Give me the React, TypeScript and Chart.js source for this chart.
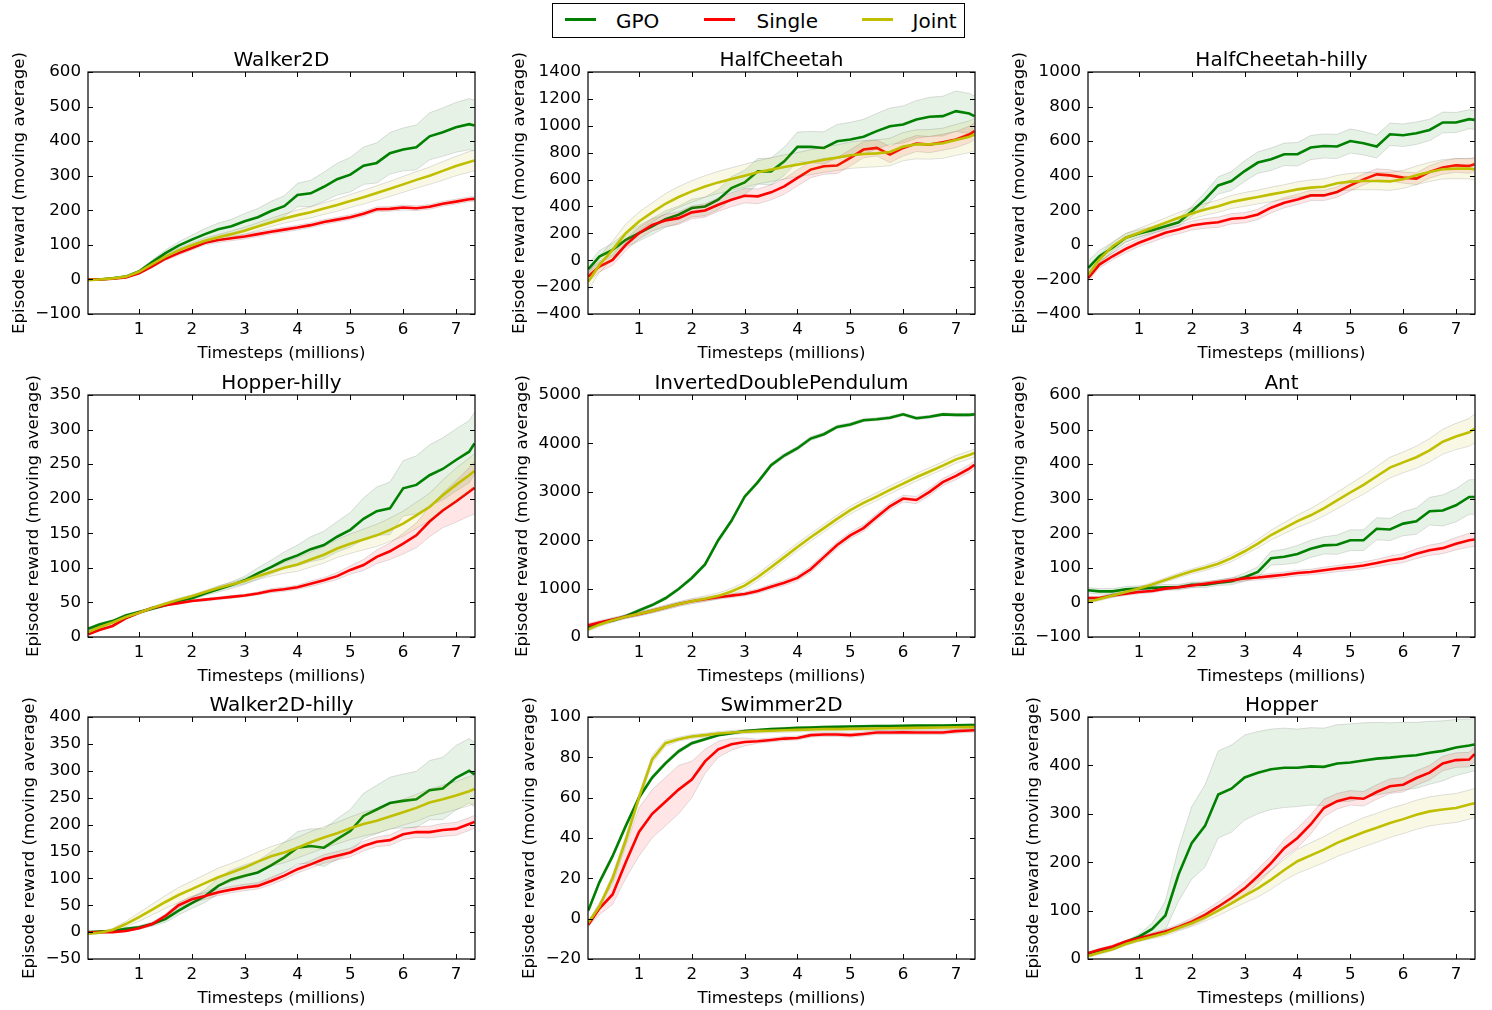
import React, { useEffect, useRef } from 'react';
import { Chart, registerables } from 'chart.js';

Chart.register(...registerables);

// ---------------- data ----------------
const TIMESTEPS = [0.04, 0.25, 0.5, 0.75, 1, 1.25, 1.5, 1.75, 2, 2.25, 2.5, 2.75, 3, 3.25, 3.5, 3.75, 4, 4.25, 4.5, 4.75, 5, 5.25, 5.5, 5.75, 6, 6.25, 6.5, 6.75, 7, 7.25, 7.35];
const X_TICKS = [1, 2, 3, 4, 5, 6, 7];
const SERIES_NAMES = ['GPO', 'Single', 'Joint'];

// Walker2D
const walkerGPO = [0, 0, 3, 8, 23, 50, 76, 98, 115, 131, 145, 154, 168, 180, 198, 212, 244, 249, 268, 290, 303, 329, 337, 365, 376, 382, 414, 426, 440, 449, 445];
const walkerGPOBand = [1, 1, 2, 3, 4, 6, 9, 11, 13, 16, 18, 20, 23, 25, 28, 30, 34, 38, 42, 46, 50, 54, 58, 60, 62, 65, 68, 70, 72, 74, 74];
const walkerSingle = [0, 0, 2, 6, 18, 38, 60, 76, 91, 106, 114, 119, 124, 131, 138, 144, 150, 157, 166, 173, 180, 190, 203, 204, 208, 206, 210, 219, 225, 232, 233];
const walkerSingleBand = [1, 1, 1, 2, 3, 4, 5, 6, 6, 6, 7, 7, 7, 7, 7, 7, 7, 7, 7, 7, 7, 7, 7, 7, 7, 7, 7, 7, 7, 7, 7];
const walkerJoint = [-2, 0, 3, 8, 22, 44, 66, 84, 99, 112, 122, 131, 141, 153, 165, 176, 186, 194, 205, 215, 227, 238, 250, 262, 275, 288, 300, 314, 328, 340, 344];
const walkerJointBand = [1, 1, 1, 2, 3, 4, 5, 6, 7, 8, 8, 9, 10, 11, 12, 13, 15, 16, 17, 18, 19, 20, 21, 22, 23, 24, 25, 27, 28, 30, 30];

// HalfCheetah
const cheetahGPO = [-67, 27, 77, 152, 201, 251, 306, 338, 388, 400, 450, 537, 579, 661, 661, 736, 843, 843, 835, 885, 898, 918, 960, 997, 1010, 1047, 1067, 1072, 1109, 1091, 1072];
const cheetahGPOBand = [40, 45, 50, 55, 58, 60, 62, 64, 66, 70, 75, 85, 90, 95, 100, 105, 110, 115, 120, 125, 128, 130, 132, 135, 138, 140, 145, 148, 150, 150, 150];
const cheetahSingle = [-122, -47, 2, 114, 201, 263, 296, 313, 356, 370, 413, 450, 480, 475, 505, 549, 612, 674, 699, 704, 761, 823, 835, 786, 835, 868, 860, 878, 898, 935, 960];
const cheetahSingleBand = [40, 40, 40, 42, 44, 45, 46, 47, 48, 50, 50, 52, 54, 55, 56, 58, 60, 60, 60, 60, 60, 60, 60, 60, 60, 60, 60, 60, 60, 62, 62];
const cheetahJoint = [-159, -35, 77, 201, 288, 356, 420, 470, 512, 549, 579, 604, 629, 654, 674, 694, 711, 729, 748, 763, 781, 790, 795, 805, 845, 862, 862, 870, 895, 918, 935];
const cheetahJointBand = [60, 60, 65, 68, 70, 72, 75, 78, 80, 80, 82, 84, 85, 86, 88, 90, 90, 92, 94, 95, 98, 100, 100, 102, 105, 108, 110, 112, 115, 118, 120];

// HalfCheetah-hilly
const cheetahHillyGPO = [-133, -66, -17, 41, 66, 85, 108, 131, 195, 263, 344, 369, 427, 476, 495, 524, 524, 563, 572, 569, 601, 588, 569, 640, 634, 646, 665, 708, 708, 727, 723];
const cheetahHillyGPOBand = [40, 35, 30, 25, 22, 20, 20, 22, 30, 40, 50, 55, 60, 62, 65, 65, 68, 70, 70, 70, 70, 68, 66, 65, 65, 65, 62, 60, 58, 55, 55];
const cheetahHillySingle = [-191, -114, -66, -23, 12, 41, 70, 89, 112, 124, 131, 151, 157, 176, 215, 244, 263, 286, 286, 306, 344, 379, 408, 402, 389, 383, 422, 447, 460, 456, 466];
const cheetahHillySingleBand = [20, 20, 20, 22, 22, 24, 25, 25, 26, 28, 30, 30, 30, 30, 30, 30, 30, 30, 30, 30, 32, 32, 32, 32, 32, 34, 36, 38, 40, 42, 42];
const cheetahHillyJoint = [-172, -85, -8, 41, 70, 99, 128, 157, 182, 205, 224, 248, 263, 277, 292, 306, 321, 331, 336, 356, 366, 369, 369, 367, 379, 402, 422, 437, 441, 441, 437];
const cheetahHillyJointBand = [25, 25, 25, 25, 25, 26, 28, 30, 32, 34, 36, 38, 40, 40, 42, 42, 44, 45, 46, 46, 48, 50, 50, 52, 52, 54, 55, 56, 58, 60, 60];

// Hopper-hilly
const hopperHillyGPO = [12, 18, 23, 31, 36, 41, 46, 52, 56, 63, 69, 75, 82, 92, 101, 111, 118, 127, 133, 145, 155, 171, 182, 186, 215, 220, 234, 243, 256, 268, 280];
const hopperHillyGPOBand = [2, 2, 2, 2, 2, 2, 2, 2, 3, 3, 4, 5, 6, 8, 10, 12, 15, 18, 20, 22, 25, 30, 35, 38, 40, 42, 44, 45, 45, 45, 45];
const hopperHillySingle = [4, 10, 16, 27, 35, 42, 46, 49, 52, 54, 56, 58, 60, 63, 67, 69, 72, 77, 82, 88, 97, 104, 116, 124, 135, 147, 167, 183, 196, 210, 216];
const hopperHillySingleBand = [1, 1, 1, 1, 1, 1, 1, 1, 1, 2, 2, 2, 2, 2, 3, 3, 3, 4, 4, 5, 6, 8, 10, 12, 15, 18, 22, 25, 30, 35, 38];
const hopperHillyJoint = [7, 14, 21, 29, 35, 42, 48, 54, 59, 65, 71, 76, 81, 88, 94, 100, 105, 112, 119, 128, 135, 141, 147, 155, 164, 176, 188, 205, 220, 234, 240];
const hopperHillyJointBand = [2, 2, 2, 2, 2, 2, 2, 2, 2, 2, 3, 3, 4, 5, 6, 8, 10, 11, 12, 13, 14, 15, 16, 17, 18, 19, 20, 22, 24, 25, 25];

// InvertedDoublePendulum
const pendulumGPO = [200, 280, 340, 430, 550, 660, 800, 990, 1220, 1500, 2000, 2400, 2900, 3200, 3550, 3750, 3900, 4100, 4190, 4340, 4390, 4480, 4500, 4530, 4600, 4520, 4550, 4600, 4590, 4590, 4600];
const pendulumGPOBand = [30, 30, 30, 30, 30, 30, 30, 30, 35, 40, 40, 40, 40, 40, 40, 40, 40, 40, 35, 35, 35, 30, 30, 30, 30, 30, 30, 30, 30, 30, 30];
const pendulumSingle = [240, 300, 360, 420, 475, 540, 610, 680, 740, 780, 820, 855, 890, 950, 1040, 1120, 1220, 1400, 1650, 1900, 2100, 2250, 2480, 2700, 2860, 2830, 3000, 3200, 3330, 3480, 3560];
const pendulumSingleBand = [40, 40, 40, 40, 40, 40, 40, 40, 40, 40, 40, 40, 40, 45, 50, 55, 60, 65, 70, 70, 70, 70, 70, 70, 70, 75, 75, 75, 80, 80, 80];
const pendulumJoint = [160, 255, 345, 420, 480, 540, 610, 680, 740, 790, 850, 940, 1060, 1240, 1440, 1650, 1860, 2060, 2250, 2440, 2620, 2770, 2900, 3040, 3170, 3300, 3420, 3540, 3670, 3760, 3800];
const pendulumJointBand = [40, 40, 40, 40, 45, 45, 50, 50, 55, 60, 60, 65, 70, 75, 80, 80, 80, 80, 80, 80, 80, 80, 80, 80, 80, 80, 80, 80, 80, 80, 80];

// Ant
const antGPO = [35, 32, 32, 38, 40, 42, 44, 44, 51, 51, 57, 61, 73, 88, 128, 132, 140, 155, 165, 167, 180, 180, 213, 211, 228, 235, 264, 266, 281, 305, 305];
const antGPOBand = [8, 8, 8, 8, 8, 8, 8, 8, 8, 8, 8, 10, 12, 15, 20, 22, 25, 25, 25, 28, 30, 30, 32, 32, 35, 38, 40, 45, 48, 50, 50];
const antSingle = [13, 13, 20, 25, 30, 33, 40, 44, 49, 54, 59, 64, 69, 72, 76, 80, 85, 88, 93, 98, 102, 107, 114, 122, 128, 141, 151, 157, 170, 180, 182];
const antSingleBand = [5, 5, 5, 5, 5, 5, 5, 5, 6, 6, 6, 7, 7, 7, 8, 8, 8, 8, 9, 9, 10, 10, 11, 12, 13, 14, 15, 16, 18, 20, 20];
const antJoint = [2, 10, 20, 30, 40, 52, 65, 78, 90, 100, 112, 128, 148, 170, 195, 215, 235, 252, 272, 295, 318, 340, 365, 390, 405, 420, 440, 465, 480, 492, 503];
const antJointBand = [5, 5, 5, 5, 5, 6, 6, 7, 7, 8, 8, 10, 10, 12, 14, 16, 18, 20, 22, 24, 25, 27, 28, 30, 30, 32, 34, 36, 38, 40, 42];

// Walker2D-hilly
const walkerHillyGPO = [0, 1, 2, 6, 9, 15, 24, 40, 54, 67, 86, 98, 105, 111, 124, 139, 157, 160, 157, 173, 188, 216, 228, 240, 244, 247, 264, 267, 287, 300, 293];
const walkerHillyGPOBand = [1, 1, 1, 2, 3, 4, 6, 8, 10, 12, 15, 18, 20, 22, 25, 28, 30, 32, 35, 38, 40, 42, 45, 48, 50, 52, 55, 58, 60, 60, 60];
const walkerHillySingle = [-1, 0, 0, 2, 7, 15, 30, 50, 61, 67, 74, 79, 83, 86, 95, 105, 117, 126, 136, 142, 148, 160, 168, 171, 182, 186, 186, 190, 192, 201, 205];
const walkerHillySingleBand = [1, 1, 1, 1, 2, 3, 4, 5, 6, 6, 6, 6, 6, 6, 7, 7, 7, 7, 8, 8, 8, 9, 9, 10, 10, 10, 11, 12, 12, 12, 12];
const walkerHillyJoint = [-3, -1, 4, 15, 28, 42, 56, 69, 80, 91, 102, 111, 120, 131, 141, 148, 157, 167, 176, 184, 193, 201, 207, 215, 223, 231, 241, 247, 254, 262, 266];
const walkerHillyJointBand = [2, 2, 3, 5, 8, 10, 12, 14, 15, 16, 17, 17, 18, 18, 18, 19, 19, 20, 20, 20, 21, 22, 23, 24, 24, 25, 25, 26, 26, 27, 27];

// Swimmer2D
const swimmerGPO = [4, 18, 31, 46, 60, 70, 77, 83, 87, 89, 91, 92, 93, 93.5, 94, 94.3, 94.6, 94.8, 95, 95.1, 95.3, 95.4, 95.5, 95.5, 95.6, 95.7, 95.8, 95.8, 95.9, 96, 96];
const swimmerGPOBand = [1, 1, 1, 1, 1, 1, 1, 1, 0.8, 0.6, 0.5, 0.5, 0.5, 0.5, 0.5, 0.5, 0.5, 0.5, 0.5, 0.5, 0.5, 0.5, 0.5, 0.5, 0.5, 0.5, 0.5, 0.5, 0.5, 0.5, 0.5];
const swimmerSingle = [-3, 5, 12, 28, 43, 52, 58, 64, 69, 78, 84, 86.5, 87.6, 88, 88.6, 89.3, 89.6, 91, 91.3, 91.3, 91, 91.6, 92.3, 92.3, 92.4, 92.3, 92.3, 92.3, 93, 93.3, 93.4];
const swimmerSingleBand = [1, 3, 5, 8, 12, 12, 12, 12, 9, 6, 4, 3, 2, 1, 1, 1, 1, 1, 1, 1, 1, 1, 1, 1, 1, 1, 1, 1, 1, 1, 1];
const swimmerJoint = [-2, 6, 20, 39, 60, 79, 87, 89, 90.3, 91, 91.8, 92.3, 92.7, 93, 93.2, 93.4, 93.6, 93.8, 94, 94, 94.1, 94.2, 94.3, 94.4, 94.5, 94.6, 94.7, 94.8, 94.9, 95, 95];
const swimmerJointBand = [1, 1, 2, 2, 2, 2, 1.5, 1, 1, 1, 1, 1, 1, 1, 1, 1, 1, 1, 1, 1, 1, 1, 1, 1, 1, 1, 1, 1, 1, 1, 1];

// Hopper
const hopperGPO = [12, 17, 24, 35, 46, 62, 90, 175, 240, 275, 340, 352, 375, 385, 392, 395, 395, 398, 397, 404, 406, 410, 414, 416, 419, 421, 426, 430, 437, 441, 443];
const hopperGPOBand = [3, 3, 3, 3, 5, 12, 30, 55, 75, 85, 90, 90, 88, 85, 83, 82, 80, 80, 80, 80, 80, 78, 75, 72, 70, 68, 65, 62, 58, 55, 54];
const hopperSingle = [12, 19, 26, 36, 43, 50, 57, 66, 77, 91, 108, 126, 146, 171, 198, 229, 250, 278, 312, 326, 333, 331, 345, 357, 360, 374, 385, 404, 411, 412, 423];
const hopperSingleBand = [3, 3, 3, 3, 3, 4, 5, 6, 8, 9, 10, 12, 14, 15, 15, 18, 20, 20, 18, 16, 15, 15, 15, 15, 15, 15, 15, 15, 15, 15, 15];
const hopperJoint = [6, 13, 20, 31, 39, 46, 53, 64, 74, 86, 100, 115, 131, 146, 164, 184, 202, 214, 226, 240, 251, 262, 271, 281, 289, 298, 305, 309, 312, 319, 322];
const hopperJointBand = [3, 3, 3, 3, 3, 4, 5, 6, 7, 8, 10, 12, 15, 18, 20, 22, 25, 26, 27, 28, 29, 30, 30, 30, 30, 30, 30, 30, 30, 30, 30];

type Panel = {
  title: string;
  yMin: number;
  yMax: number;
  yStep: number;
  series: number[][];
  bands: number[][];
};

const PANELS: Panel[] = [
  { title: 'Walker2D', yMin: -100, yMax: 600, yStep: 100, series: [walkerGPO, walkerSingle, walkerJoint], bands: [walkerGPOBand, walkerSingleBand, walkerJointBand] },
  { title: 'HalfCheetah', yMin: -400, yMax: 1400, yStep: 200, series: [cheetahGPO, cheetahSingle, cheetahJoint], bands: [cheetahGPOBand, cheetahSingleBand, cheetahJointBand] },
  { title: 'HalfCheetah-hilly', yMin: -400, yMax: 1000, yStep: 200, series: [cheetahHillyGPO, cheetahHillySingle, cheetahHillyJoint], bands: [cheetahHillyGPOBand, cheetahHillySingleBand, cheetahHillyJointBand] },
  { title: 'Hopper-hilly', yMin: 0, yMax: 350, yStep: 50, series: [hopperHillyGPO, hopperHillySingle, hopperHillyJoint], bands: [hopperHillyGPOBand, hopperHillySingleBand, hopperHillyJointBand] },
  { title: 'InvertedDoublePendulum', yMin: 0, yMax: 5000, yStep: 1000, series: [pendulumGPO, pendulumSingle, pendulumJoint], bands: [pendulumGPOBand, pendulumSingleBand, pendulumJointBand] },
  { title: 'Ant', yMin: -100, yMax: 600, yStep: 100, series: [antGPO, antSingle, antJoint], bands: [antGPOBand, antSingleBand, antJointBand] },
  { title: 'Walker2D-hilly', yMin: -50, yMax: 400, yStep: 50, series: [walkerHillyGPO, walkerHillySingle, walkerHillyJoint], bands: [walkerHillyGPOBand, walkerHillySingleBand, walkerHillyJointBand] },
  { title: 'Swimmer2D', yMin: -20, yMax: 100, yStep: 20, series: [swimmerGPO, swimmerSingle, swimmerJoint], bands: [swimmerGPOBand, swimmerSingleBand, swimmerJointBand] },
  { title: 'Hopper', yMin: 0, yMax: 500, yStep: 100, series: [hopperGPO, hopperSingle, hopperJoint], bands: [hopperGPOBand, hopperSingleBand, hopperJointBand] },
];

// ---------------- styling / layout ----------------
const LINE_COLORS = ['#008000', '#ff0000', '#bfbf00'];
const FILL_COLORS = ['rgba(0,128,0,0.1)', 'rgba(255,0,0,0.1)', 'rgba(191,191,0,0.1)'];
const FONT = '"DejaVu Sans", sans-serif';
const PLOT_LEFT = [88, 588, 1088];
const PLOT_TOP = [72, 395, 717];
const PLOT_W = 387;
const PLOT_H = 242;
const PAD_L = 85;
const PAD_T = 35;
const PAD_R = 15;
const PAD_B = 60;
const CANVAS_W = PAD_L + PLOT_W + PAD_R;
const CANVAS_H = PAD_T + PLOT_H + PAD_B;

const fmt = (v: number) => (v < 0 ? '\u2212' + Math.abs(v) : String(v));

const decorPlugin = {
  id: 'decor',
  afterDraw(chart: any, _args: any, opts: any) {
    const { ctx, chartArea: a, scales } = chart;
    const xs = scales.x;
    const ys = scales.y;
    ctx.save();
    ctx.strokeStyle = '#000';
    ctx.lineWidth = 1;
    ctx.beginPath();
    for (const t of xs.ticks) {
      const px = Math.round(xs.getPixelForValue(t.value)) + 0.5;
      ctx.moveTo(px, a.bottom);
      ctx.lineTo(px, a.bottom - 5);
      ctx.moveTo(px, a.top);
      ctx.lineTo(px, a.top + 5);
    }
    for (const t of ys.ticks) {
      const py = Math.round(ys.getPixelForValue(t.value)) + 0.5;
      ctx.moveTo(a.left, py);
      ctx.lineTo(a.left + 5, py);
      ctx.moveTo(a.right, py);
      ctx.lineTo(a.right - 5, py);
    }
    ctx.stroke();
    ctx.lineWidth = 1.2;
    ctx.strokeRect(a.left, a.top, a.right - a.left, a.bottom - a.top);

    ctx.fillStyle = '#000';
    ctx.font = `20px ${FONT}`;
    ctx.textAlign = 'center';
    ctx.textBaseline = 'alphabetic';
    ctx.fillText(opts.title, (a.left + a.right) / 2, a.top - 6);

    ctx.font = `16.67px ${FONT}`;
    let w = 0;
    for (const t of ys.ticks) w = Math.max(w, ctx.measureText(String(t.label)).width);
    const cx = a.left - 7 - w - 16;
    ctx.translate(cx, (a.top + a.bottom) / 2);
    ctx.rotate(-Math.PI / 2);
    ctx.textBaseline = 'middle';
    ctx.fillText('Episode reward (moving average)', 0, 0);
    ctx.restore();
  },
};

function buildDatasets(p: Panel) {
  const ds: any[] = [];
  const orders = [4, 2, 0];
  p.series.forEach((vals, s) => {
    const band = p.bands[s];
    ds.push({
      label: SERIES_NAMES[s],
      data: TIMESTEPS.map((x, i) => ({ x, y: vals[i] })),
      borderColor: LINE_COLORS[s],
      borderWidth: 2.6,
      pointRadius: 0,
      fill: false,
      tension: 0,
      order: orders[s],
    });
    ds.push({
      label: SERIES_NAMES[s] + ' upper',
      data: TIMESTEPS.map((x, i) => ({ x, y: vals[i] + band[i] })),
      borderColor: 'rgba(0,0,0,0.12)',
      borderWidth: 1,
      pointRadius: 0,
      backgroundColor: FILL_COLORS[s],
      fill: '+1',
      tension: 0,
      order: orders[s] + 1,
    });
    ds.push({
      label: SERIES_NAMES[s] + ' lower',
      data: TIMESTEPS.map((x, i) => ({ x, y: vals[i] - band[i] })),
      borderColor: 'rgba(0,0,0,0.12)',
      borderWidth: 1,
      pointRadius: 0,
      fill: false,
      tension: 0,
      order: orders[s] + 1,
    });
  });
  return ds;
}

function PanelChart({ panel, col, row }: { panel: Panel; col: number; row: number }) {
  const ref = useRef<HTMLCanvasElement | null>(null);
  useEffect(() => {
    if (!ref.current) return;
    const tickFont = { family: FONT, size: 16.67 };
    const chart = new Chart(ref.current, {
      type: 'line',
      data: { datasets: buildDatasets(panel) },
      options: {
        animation: false,
        responsive: false,
        events: [],
        layout: { padding: { left: 0, top: PAD_T, right: PAD_R, bottom: 0 } },
        plugins: {
          legend: { display: false },
          tooltip: { enabled: false },
          title: { display: false },
          decor: { title: panel.title },
        } as any,
        scales: {
          x: {
            type: 'linear',
            min: 0.035,
            max: 7.36,
            grid: { display: false, drawTicks: false },
            border: { display: false },
            afterBuildTicks: (s: any) => {
              s.ticks = X_TICKS.map((v) => ({ value: v }));
            },
            afterFit: (s: any) => {
              s.height = PAD_B;
            },
            ticks: {
              color: '#000',
              font: tickFont,
              padding: 6,
              autoSkip: false,
              maxRotation: 0,
              callback: (v: any) => String(v),
            },
            title: {
              display: true,
              text: 'Timesteps (millions)',
              color: '#000',
              font: tickFont,
              padding: { top: 0, bottom: 10.3 },
            },
          },
          y: {
            type: 'linear',
            min: panel.yMin,
            max: panel.yMax,
            grid: { display: false, drawTicks: false },
            border: { display: false },
            afterFit: (s: any) => {
              s.width = PAD_L;
            },
            ticks: {
              color: '#000',
              font: tickFont,
              padding: 7,
              stepSize: panel.yStep,
              autoSkip: false,
              callback: (v: any) => fmt(Number(v)),
            },
          },
        },
      } as any,
      plugins: [decorPlugin as any],
    });
    return () => chart.destroy();
  }, [panel]);
  return (
    <canvas
      ref={ref}
      width={CANVAS_W}
      height={CANVAS_H}
      style={{
        position: 'absolute',
        left: PLOT_LEFT[col] - PAD_L,
        top: PLOT_TOP[row] - PAD_T,
        width: CANVAS_W,
        height: CANVAS_H,
      }}
    />
  );
}

const legendItems = [
  { name: SERIES_NAMES[0], lineLeft: 565, textLeft: 616 },
  { name: SERIES_NAMES[1], lineLeft: 704, textLeft: 756.5 },
  { name: SERIES_NAMES[2], lineLeft: 862, textLeft: 912.5 },
];

export default function App() {
  return (
    <div
      style={{
        position: 'absolute',
        left: 0,
        top: 0,
        width: 1492,
        height: 1010,
        background: '#fff',
        fontFamily: FONT,
        overflow: 'hidden',
      }}
    >
      {PANELS.map((p, i) => (
        <PanelChart key={p.title} panel={p} col={i % 3} row={Math.floor(i / 3)} />
      ))}
      <div
        style={{
          position: 'absolute',
          left: 552,
          top: 3,
          width: 413,
          height: 35,
          border: '1px solid #000',
          boxSizing: 'border-box',
          background: '#fff',
        }}
      />
      {legendItems.map((it, i) => (
        <React.Fragment key={it.name}>
          <div
            style={{
              position: 'absolute',
              left: it.lineLeft,
              top: 18,
              width: 31,
              height: 3,
              background: LINE_COLORS[i],
            }}
          />
          <span
            style={{
              position: 'absolute',
              left: it.textLeft,
              top: 8.5,
              fontSize: 20,
              lineHeight: '24px',
              color: '#000',
              whiteSpace: 'nowrap',
            }}
          >
            {it.name}
          </span>
        </React.Fragment>
      ))}
    </div>
  );
}
